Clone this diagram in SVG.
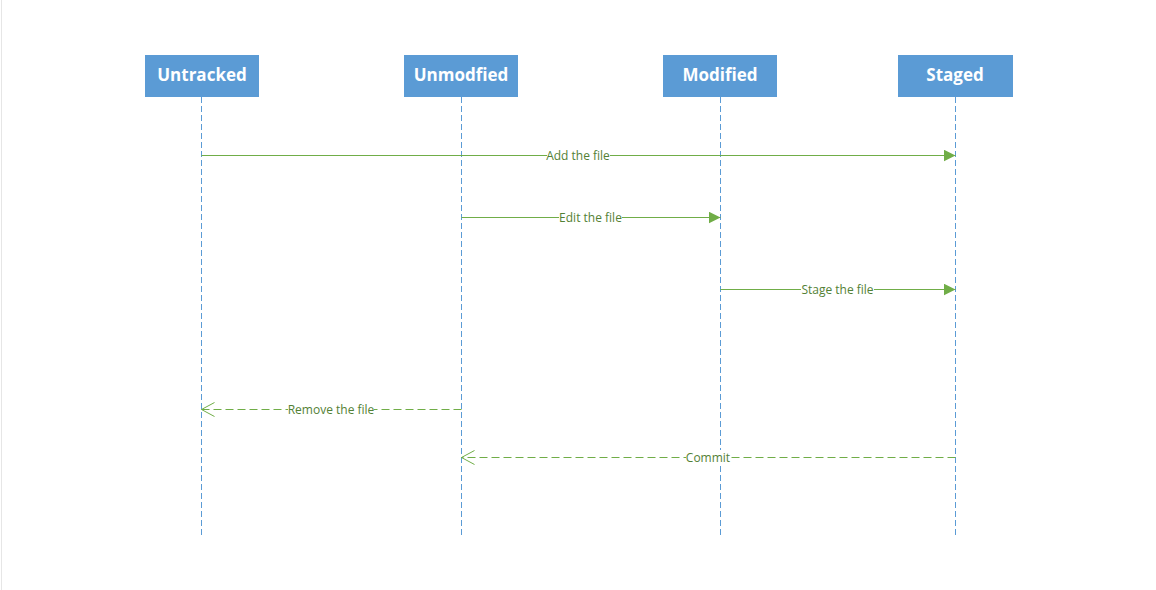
<svg xmlns="http://www.w3.org/2000/svg" width="1156" height="590" viewBox="0 0 1156 590">
<style>
.box{fill:#5b9bd5;}
.hdr{font-family:"Open Sans","Liberation Sans",sans-serif;font-weight:bold;font-size:17px;fill:#ffffff;text-anchor:middle;}
.life{stroke:#5b9bd5;stroke-width:1;stroke-dasharray:6,3;fill:none;}
.msg{stroke:#70ad47;stroke-width:1;fill:none;}
.ret{stroke:#70ad47;stroke-width:1;stroke-dasharray:8,4;fill:none;}
.lbl{font-family:"Open Sans","Liberation Sans",sans-serif;font-size:12px;fill:#538135;text-anchor:middle;}
.bg{fill:#ffffff;}
</style>
<defs>
<marker id="solid" markerWidth="14" markerHeight="14" refX="12" refY="6" orient="auto" markerUnits="userSpaceOnUse">
<path d="M0,0 L12,6 L0,12 Z" fill="#70ad47"/>
</marker>
<marker id="open" markerWidth="16" markerHeight="16" refX="13" refY="7" orient="auto" markerUnits="userSpaceOnUse">
<path d="M0,0 L13,7 L0,14" fill="none" stroke="#70ad47" stroke-width="1"/>
</marker>
</defs>
<rect width="1156" height="590" fill="#ffffff"/>
<line x1="1.5" y1="0" x2="1.5" y2="590" stroke="#e6e6e6" stroke-width="1"/>
<g id="node-untracked">
<rect class="box" x="145" y="55" width="114" height="42"/>
<text class="hdr" x="202" y="81">Untracked</text>
<line class="life" x1="201.5" y1="97" x2="201.5" y2="537"/>
</g>
<g id="node-unmodified">
<rect class="box" x="404" y="55" width="114" height="42"/>
<text class="hdr" x="461" y="81">Unmodfied</text>
<line class="life" x1="461.5" y1="97" x2="461.5" y2="537"/>
</g>
<g id="node-modified">
<rect class="box" x="663" y="55" width="114" height="42"/>
<text class="hdr" x="720" y="81">Modified</text>
<line class="life" x1="720.5" y1="97" x2="720.5" y2="537"/>
</g>
<g id="node-staged">
<rect class="box" x="898" y="55" width="115" height="42"/>
<text class="hdr" x="955" y="81">Staged</text>
<line class="life" x1="955.5" y1="97" x2="955.5" y2="537"/>
</g>
<g id="connectors">
<line class="msg" x1="201.5" y1="155.5" x2="955.5" y2="155.5" marker-end="url(#solid)"/>
<rect class="bg" x="547" y="148" width="63" height="15"/>
<text class="lbl" x="578" y="159.5">Add the file</text>
<line class="msg" x1="461.5" y1="217.5" x2="720.5" y2="217.5" marker-end="url(#solid)"/>
<rect class="bg" x="559" y="210" width="63" height="15"/>
<text class="lbl" x="590.5" y="221.5">Edit the file</text>
<line class="msg" x1="720.5" y1="289.5" x2="955.5" y2="289.5" marker-end="url(#solid)"/>
<rect class="bg" x="801" y="282" width="73" height="15"/>
<text class="lbl" x="837.5" y="293.5">Stage the file</text>
<line class="ret" x1="461.5" y1="409.5" x2="201.5" y2="409.5" marker-end="url(#open)"/>
<rect class="bg" x="288" y="402" width="86" height="15"/>
<text class="lbl" x="331" y="413.5">Remove the file</text>
<line class="ret" x1="955.5" y1="457.5" x2="461.5" y2="457.5" marker-end="url(#open)"/>
<rect class="bg" x="686" y="450" width="44" height="15"/>
<text class="lbl" x="708" y="461.5">Commit</text>
</g>
</svg>
